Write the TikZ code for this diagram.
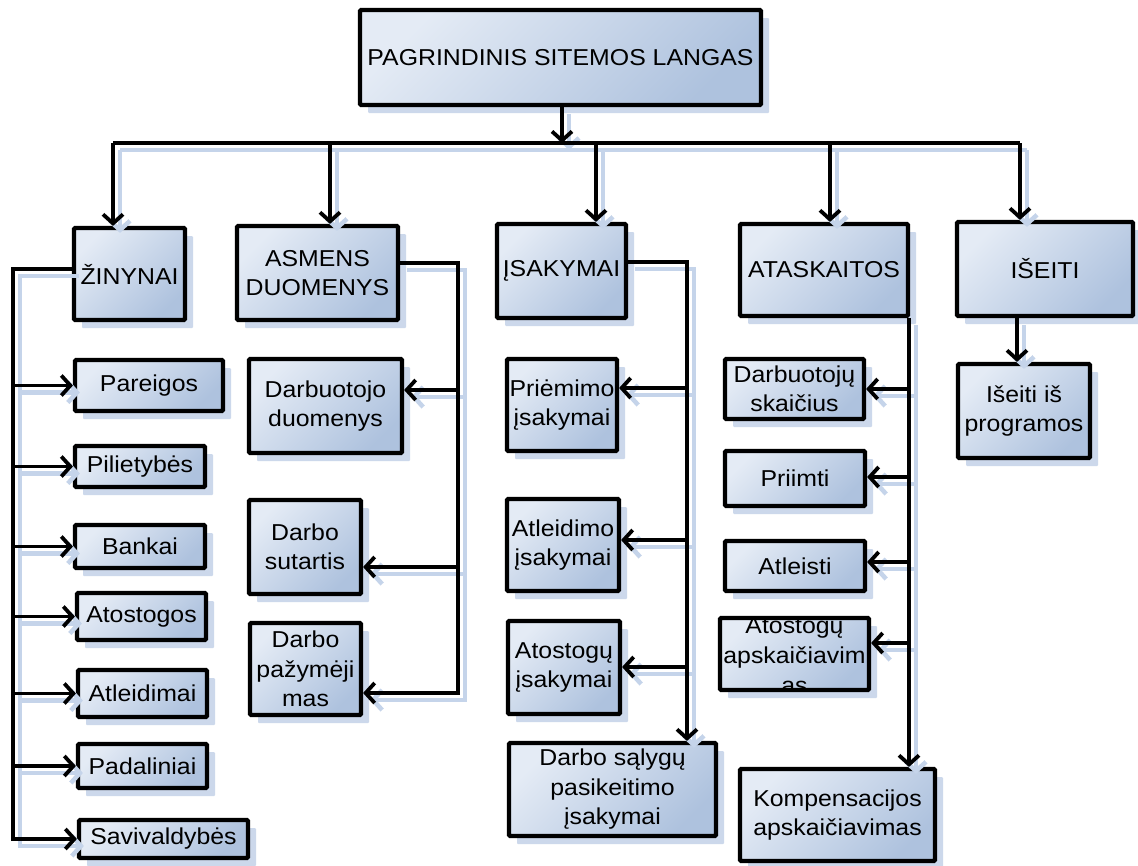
\documentclass[tikz,border=0pt]{standalone}
\usepackage{fontspec}
\setmainfont{Liberation Sans}[FakeStretch=1.08]
\usetikzlibrary{arrows.meta,shadows}
\definecolor{boxlight}{HTML}{E4EBF5}
\definecolor{boxdark}{HTML}{AEC2DE}
\definecolor{boxshade}{HTML}{CCD8EB}
\definecolor{lineshade}{HTML}{C5D4EA}

\tikzset{
  box/.style={draw=black, line width=4.2pt, rounded corners=1pt,
    top color=boxlight, bottom color=boxdark, shading angle=45,
    drop shadow={shadow xshift=8pt, shadow yshift=-8pt, fill=boxshade, opacity=1},
    align=center, inner sep=0pt, font=\fontsize{23}{29.5}\selectfont},
  lbl/.style={align=center, inner sep=0pt, font=\fontsize{23}{30}\selectfont},
  wire/.style={draw=black, line width=3.8pt, line join=miter},
  arr/.style={wire, -{Straight Barb[length=9pt,width=20pt,line width=3.8pt]}},
  wireshade/.style={draw=lineshade, line width=4.5pt, line join=miter},
  arrshade/.style={wireshade, -{Straight Barb[length=9pt,width=20pt,line width=4.5pt]}},
}

% every connector of the chart, drawn with a plain style #1 and an arrow style #2
\newcommand\chartwires[2]{%
  \draw[#1] (b1) -- (b5);
  \draw[#2] (top.south -| tp) -- (tp);
  \draw[#2] (b1) -- (b1 |- zin.north);
  \draw[#2] (b2) -- (b2 |- asm.north);
  \draw[#2] (b3) -- (b3 |- isa.north);
  \draw[#2] (b4) -- (b4 |- ata.north);
  \draw[#2] (b5) -- (b5 |- ise.north);
  \draw[#2] (zin.west |- lt) -- (lt) |- (sav.west);
  \foreach \n in {par,pil,ban,ato,atl,pad}
    \draw[#2] (lt |- \n.west) -- (\n.west);
  \draw[#2] (asm.east |- at) -- (at) -- (a3) -- (a3 -| dp.east);
  \draw[#2] (a1) -- (a1 -| dd.east);
  \draw[#2] (a2) -- (a2 -| ds.east);
  \draw[#2] (isa.east |- it) -- (it) -- (it |- dsp.north);
  \draw[#2] (i1) -- (i1 -| pri.east);
  \draw[#2] (i2) -- (i2 -| atld.east);
  \draw[#2] (i3) -- (i3 -| atoi.east);
  \draw[#2] (ata.south -| tx) -- (tx |- komp.north);
  \draw[#2] (t1) -- (t1 -| dsk.east);
  \draw[#2] (t2) -- (t2 -| prm.east);
  \draw[#2] (t3) -- (t3 -| atls.east);
  \draw[#2] (t4) -- (t4 -| atap.east);
  \draw[#2] (ise.south -| sx) -- (sx |- iip.north);
}

\begin{document}
\begin{tikzpicture}[x=1pt,y=-1pt]
\fill[white] (0,0) rectangle (1138,865);
\useasboundingbox (0,0) rectangle (1138,865);

% top level
\node[box, minimum width=401pt, minimum height=95pt] (top) at (560.5,57.5) {PAGRINDINIS SITEMOS LANGAS};
\node[box, minimum width=111pt, minimum height=92pt] (zin) at (129.5,274) {ŽINYNAI};
\node[box, minimum width=161pt, minimum height=94pt] (asm) at (317.5,273) {ASMENS\\DUOMENYS};
\node[box, minimum width=129pt, minimum height=94pt] (isa) at (561.5,271) {ĮSAKYMAI};
\node[box, minimum width=168pt, minimum height=92pt] (ata) at (824,270) {ATASKAITOS};
\node[box, minimum width=176pt, minimum height=94pt] (ise) at (1045,269) {IŠEITI};

% reference lists
\node[box, minimum width=148pt, minimum height=51pt] (par) at (149,385.5) {Pareigos};
\node[box, minimum width=130pt, minimum height=41pt] (pil) at (140,466.5) {Pilietybės};
\node[box, minimum width=130pt, minimum height=43pt] (ban) at (140,546.5) {Bankai};
\node[box, minimum width=129pt, minimum height=47pt] (ato) at (141.5,616.5) {Atostogos};
\node[box, minimum width=129pt, minimum height=47pt] (atl) at (142.5,693.5) {Atleidimai};
\node[box, minimum width=129pt, minimum height=44pt] (pad) at (142.5,766) {Padaliniai};
\node[box, minimum width=169pt, minimum height=38pt] (sav) at (163.5,839) {Savivaldybės};

% personal data
\node[box, minimum width=153pt, minimum height=94pt] (dd) at (325.5,406) {Darbuotojo\\duomenys};
\node[box, minimum width=112pt, minimum height=94pt] (ds) at (305,547) {Darbo\\sutartis};
\node[box, minimum width=111pt, minimum height=92pt] (dp) at (305.5,669) {Darbo\\pažymėji\\mas};

% orders
\node[box, minimum width=110pt, minimum height=92pt] (pri) at (562,405) {Priėmimo\\įsakymai};
\node[box, minimum width=112pt, minimum height=92pt] (atld) at (563,545) {Atleidimo\\įsakymai};
\node[box, minimum width=112pt, minimum height=93pt] (atoi) at (564,667.5) {Atostogų\\įsakymai};
\node[box, minimum width=207pt, minimum height=93pt] (dsp) at (612.5,789.5) {Darbo sąlygų\\pasikeitimo\\įsakymai};

% reports
\node[box, minimum width=139pt, minimum height=60pt] (dsk) at (794.5,389) {Darbuotojų\\skaičius};
\node[box, minimum width=140pt, minimum height=55pt] (prm) at (795,478.5) {Priimti};
\node[box, minimum width=140pt, minimum height=50pt] (atls) at (795,566) {Atleisti};
\node[box, minimum width=149pt, minimum height=72pt] (atap) at (794.5,654) {};
\begin{scope}
  \clip ([shift={(2.1pt,-2.1pt)}]atap.north west) rectangle ([shift={(-2.1pt,2.1pt)}]atap.south east);
  \node[lbl] (atapt) at ([yshift=-2pt]atap.center) {Atostogų\\apskaičiavim\\as};
\end{scope}
\node[box, minimum width=195pt, minimum height=92pt] (komp) at (837.5,815) {Kompensacijos\\apskaičiavimas};

% exit
\node[box, minimum width=132pt, minimum height=94pt] (iip) at (1024,411) {Išeiti iš\\programos};

% junction points of the connectors
\coordinate (tp) at (562,143);
\coordinate (b1) at (113,143);
\coordinate (b2) at (330,143);
\coordinate (b3) at (596,143);
\coordinate (b4) at (830,143);
\coordinate (b5) at (1020,143);
\coordinate (lt) at (13,269);
\coordinate (at) at (458,263);
\coordinate (a1) at (458,390);
\coordinate (a2) at (458,567);
\coordinate (a3) at (458,693);
\coordinate (it) at (687,262);
\coordinate (i1) at (687,388);
\coordinate (i2) at (687,540);
\coordinate (i3) at (687,667);
\coordinate (tx) at (909,0);
\coordinate (t1) at (909,389);
\coordinate (t2) at (909,477);
\coordinate (t3) at (909,562);
\coordinate (t4) at (909,643);
\coordinate (sx) at (1017,0);

% connector shadows, then the connectors
\begin{scope}[transform canvas={shift={(7pt,-7pt)}}]
  \chartwires{wireshade}{arrshade}
\end{scope}
\chartwires{wire}{arr}
\end{tikzpicture}
\end{document}
